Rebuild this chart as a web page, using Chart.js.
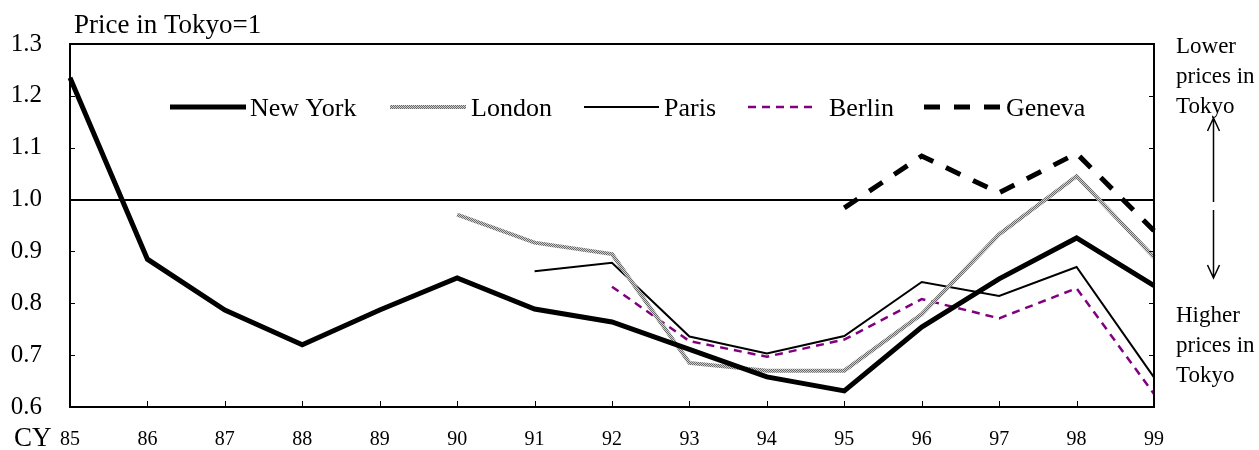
<!DOCTYPE html>
<html lang="en">
<head>
  <meta charset="UTF-8">
  <title>Price in Tokyo=1</title>
  <script src="https://cdn.jsdelivr.net/npm/chart.js@4.4.1/dist/chart.umd.min.js"></script>
  <style>
    html, body {
      margin: 0;
      overflow: hidden;
      background-color: #ffffff;
    }
    #wrap {
      width: 1259px;
      height: 450px;
    }
    #priceChart {
      display: block;
    }
  </style>
</head>
<body>
  <div id="wrap">
    <canvas id="priceChart" width="1259" height="450"></canvas>
  </div>

  <script>
    const years = ['85', '86', '87', '88', '89', '90', '91', '92', '93', '94', '95', '96', '97', '98', '99'];
    const newYork = [1.235, 0.885, 0.787, 0.720, 0.787, 0.849, 0.789, 0.764, 0.711, 0.658, 0.631, 0.754, 0.847, 0.926, 0.834];
    const london = [null, null, null, null, null, 0.971, 0.917, 0.895, 0.685, 0.670, 0.670, 0.779, 0.933, 1.045, 0.889];
    const paris = [null, null, null, null, null, null, 0.862, 0.878, 0.736, 0.703, 0.737, 0.841, 0.814, 0.870, 0.657];
    const berlin = [null, null, null, null, null, null, null, 0.832, 0.727, 0.697, 0.730, 0.808, 0.771, 0.829, 0.625];
    const geneva = [null, null, null, null, null, null, null, null, null, null, 0.984, 1.084, 1.013, 1.089, 0.940];
    const yTicks = [0.6, 0.7, 0.8, 0.9, 1.0, 1.1, 1.2, 1.3];

    const serif = '"Liberation Serif", "Times New Roman", serif';

    // grey speckled stroke used for London
    const makeSpeckle = () => {
      const c = document.createElement('canvas');
      c.width = 2;
      c.height = 2;
      const g = c.getContext('2d');
      g.fillStyle = '#d0d0d0';
      g.fillRect(0, 0, 2, 2);
      g.fillStyle = '#686868';
      g.fillRect(0, 0, 1, 1);
      g.fillRect(1, 1, 1, 1);
      return g.createPattern(c, 'repeat');
    };

    // legend sample / text positions inside the plot
    const legendSpots = [
      { x0: 170, x1: 246, tx: 250 },
      { x0: 390, x1: 466, tx: 471 },
      { x0: 584, x1: 659, tx: 664 },
      { x0: 748, x1: 815, tx: 829 },
      { x0: 924, x1: 1000, tx: 1006 }
    ];

    const decorPlugin = {
      id: 'decor',
      afterDraw(chart) {
        const ctx = chart.ctx;
        const a = chart.chartArea;
        const y = chart.scales.y;
        const x = chart.scales.x;
        ctx.save();

        // plot box
        ctx.strokeStyle = '#000';
        ctx.lineWidth = 2;
        ctx.strokeRect(a.left, a.top, a.right - a.left, a.bottom - a.top);

        // inside tick marks
        ctx.lineWidth = 1;
        ctx.beginPath();
        years.forEach((yr, i) => {
          const px = Math.round(x.getPixelForValue(i)) + 0.5;
          ctx.moveTo(px, a.bottom);
          ctx.lineTo(px, a.bottom - 6);
        });
        yTicks.forEach((v) => {
          const py = Math.round(y.getPixelForValue(v)) + 0.5;
          ctx.moveTo(a.left, py);
          ctx.lineTo(a.left + 5, py);
          ctx.moveTo(a.right, py);
          ctx.lineTo(a.right - 5, py);
        });
        ctx.stroke();

        // legend
        const ly = 107;
        ctx.font = '26px ' + serif;
        ctx.textBaseline = 'middle';
        ctx.fillStyle = '#000';
        chart.data.datasets.forEach((ds, i) => {
          const s = legendSpots[i];
          ctx.save();
          ctx.strokeStyle = ds.borderColor;
          ctx.lineWidth = ds.borderWidth;
          ctx.setLineDash(ds.borderDash || []);
          ctx.beginPath();
          ctx.moveTo(s.x0, ly);
          ctx.lineTo(s.x1, ly);
          ctx.stroke();
          ctx.restore();
          ctx.fillText(ds.label, s.tx, ly + 2);
        });

        // titles
        ctx.textBaseline = 'alphabetic';
        ctx.font = '27px ' + serif;
        ctx.fillText('Price in Tokyo=1', 74, 33);
        ctx.fillText('CY', 14, 446);

        ctx.font = '23px ' + serif;
        ['Lower', 'prices in', 'Tokyo'].forEach((t, i) => ctx.fillText(t, 1176, 53 + i * 30));
        ['Higher', 'prices in', 'Tokyo'].forEach((t, i) => ctx.fillText(t, 1176, 322 + i * 30));

        // arrow between the notes
        const ax = 1213.5;
        ctx.lineWidth = 1.5;
        ctx.beginPath();
        ctx.moveTo(ax, 118);
        ctx.lineTo(ax, 202);
        ctx.moveTo(ax, 210);
        ctx.lineTo(ax, 278);
        ctx.moveTo(ax - 6, 131);
        ctx.lineTo(ax, 118);
        ctx.lineTo(ax + 6, 131);
        ctx.moveTo(ax - 6, 265);
        ctx.lineTo(ax, 278);
        ctx.lineTo(ax + 6, 265);
        ctx.stroke();

        ctx.restore();
      }
    };

    const ctx = document.getElementById('priceChart').getContext('2d');
    new Chart(ctx, {
      type: 'line',
      data: {
        labels: years,
        datasets: [
          { label: 'New York', data: newYork, borderColor: '#000', borderWidth: 5 },
          { label: 'London', data: london, borderColor: makeSpeckle(), borderWidth: 4 },
          { label: 'Paris', data: paris, borderColor: '#000', borderWidth: 2 },
          { label: 'Berlin', data: berlin, borderColor: '#800080', borderWidth: 2.5, borderDash: [8, 6] },
          { label: 'Geneva', data: geneva, borderColor: '#000', borderWidth: 5, borderDash: [16, 14] }
        ]
      },
      options: {
        responsive: false,
        animation: false,
        devicePixelRatio: 1,
        elements: {
          point: { radius: 0 },
          line: { tension: 0, borderJoinStyle: 'miter', borderCapStyle: 'butt' }
        },
        layout: {
          padding: { top: 44, right: 105, left: 0, bottom: 0 }
        },
        plugins: {
          legend: { display: false },
          tooltip: { enabled: false }
        },
        scales: {
          x: {
            offset: false,
            grid: { display: false },
            border: { display: false },
            ticks: {
              autoSkip: false,
              maxRotation: 0,
              padding: 13,
              color: '#000',
              font: { family: serif, size: 20 }
            },
            afterFit: (scale) => { scale.height = 38; }
          },
          y: {
            min: 0.6,
            max: 1.3,
            border: { display: false },
            grid: {
              drawTicks: false,
              lineWidth: 2,
              color: (c) => (c.tick && Math.abs(c.tick.value - 1.0) < 1e-6 ? '#000' : 'rgba(0,0,0,0)')
            },
            ticks: {
              stepSize: 0.1,
              padding: 28,
              color: '#000',
              font: { family: serif, size: 25 },
              callback: (v) => Number(v).toFixed(1)
            },
            afterFit: (scale) => { scale.width = 70; }
          }
        }
      },
      plugins: [decorPlugin]
    });
  </script>
</body>
</html>
